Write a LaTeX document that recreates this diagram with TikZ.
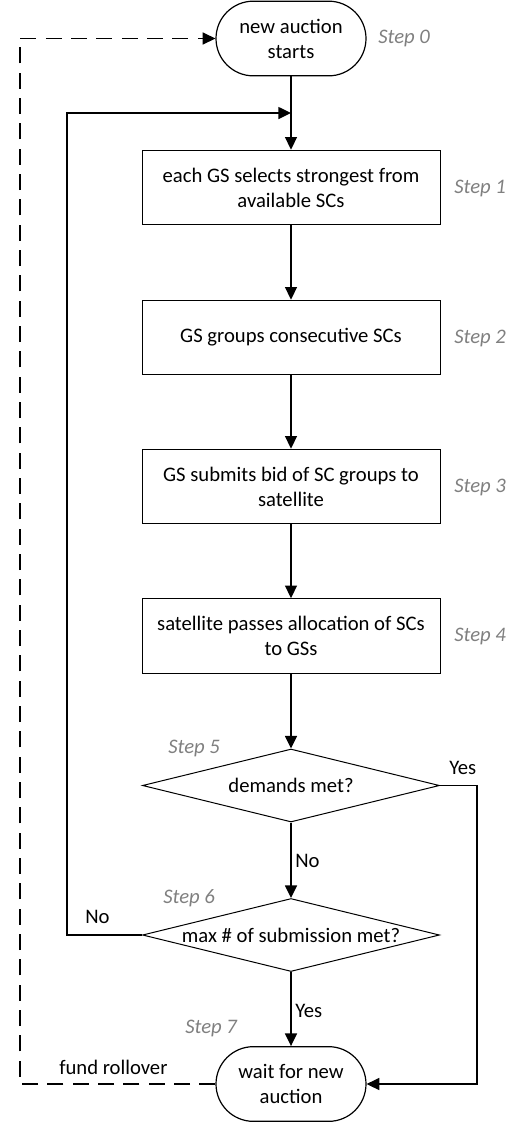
\documentclass[tikz,border=0pt]{standalone}
\usepackage{fontspec}
\setmainfont{Carlito}
\usepackage{tikz}
\usetikzlibrary{arrows.meta}
\usetikzlibrary{shapes.geometric}

\tikzset{
    schrift/.style={font=\fontsize{15.5}{18.75}\selectfont},
    rund/.style={draw,schrift,line width=0.9pt,rounded corners=28pt,minimum width=112.5pt,minimum height=56pt,align=center,inner sep=0pt},
    kasten/.style={draw,schrift,line width=0.75pt,minimum width=223.5pt,minimum height=56pt,align=center,inner sep=0pt},
    raute/.style={draw,schrift,diamond,aspect=4.07,line width=0.75pt,minimum width=222.75pt,minimum height=54.75pt,inner sep=0pt},
    schritt/.style={anchor=west,inner sep=0pt,text=black!50,font=\fontsize{15.5}{18}\selectfont\itshape},
    pfeil/.style={line width=1.1pt,-{Triangle[length=9.5pt,width=9pt]}},
    beschr/.style={schrift,anchor=west,inner sep=0pt}
}

\begin{document}
\begin{tikzpicture}[x=0.75pt,y=-0.75pt]
            \useasboundingbox (0,0) rectangle (522,1122);
            % Knoten zeichnen
            \node[rund] (start) at (291,38.5) {new auction\\starts};
            \node[kasten] (s1) at (291,187.5) {each GS selects strongest from\\available SCs};
            \node[kasten] (s2) at (291,337.5) {GS groups consecutive SCs};
            \node[kasten] (s3) at (291,486.5) {GS submits bid of SC groups to\\satellite};
            \node[kasten] (s4) at (291,636) {satellite passes allocation of SCs\\to GSs};
            \node[raute] (d1) at (291,785.5) {demands met?};
            \node[raute] (d2) at (291,935) {max \# of submission met?};
            \node[rund] (ende) at (291,1084) {wait for new\\auction};

            %Schritte:
            \node[schritt] (t0) at (378,38) {Step 0};
            \node[schritt] (t1) at (454,188) {Step 1};
            \node[schritt] (t2) at (454,338) {Step 2};
            \node[schritt] (t3) at (454,487) {Step 3};
            \node[schritt] (t4) at (454,636) {Step 4};
            \node[schritt] (t5) at (168,748) {Step 5};
            \node[schritt] (t6) at (163,898) {Step 6};
            \node[schritt] (t7) at (185,1028) {Step 7};

            % Hilfspunkte
            \coordinate (mitte) at (291,113);
            \coordinate (nein) at (67,113);
            \coordinate (ja) at (477,785.5);
            \coordinate (rueck) at (20,1084);

            % Pfeile zeichnen
            \draw[pfeil] (start) -- (s1);
            \draw[pfeil] (s1) -- (s2);
            \draw[pfeil] (s2) -- (s3);
            \draw[pfeil] (s3) -- (s4);
            \draw[pfeil] (s4) -- (d1);
            \draw[pfeil] (d1) -- (d2);
            \draw[pfeil] (d2) -- (ende);
            \draw[pfeil] (d1.east) -- (ja) |- (ende.east);
            \draw[pfeil] (d2.west) -| (nein) -- (mitte);
            \draw[pfeil,dashed,dash pattern=on 12pt off 7pt] (ende.west) -- (rueck) |- (start.west);

            %Beschriftungen:
            \node[beschr] (l1) at (449,768) {Yes};
            \node[beschr] (l2) at (295,861) {No};
            \node[beschr] (l3) at (85,917) {No};
            \node[beschr] (l4) at (295,1011) {Yes};
            \node[beschr] (l5) at (59,1067) {fund rollover};

        \end{tikzpicture}
\end{document}
